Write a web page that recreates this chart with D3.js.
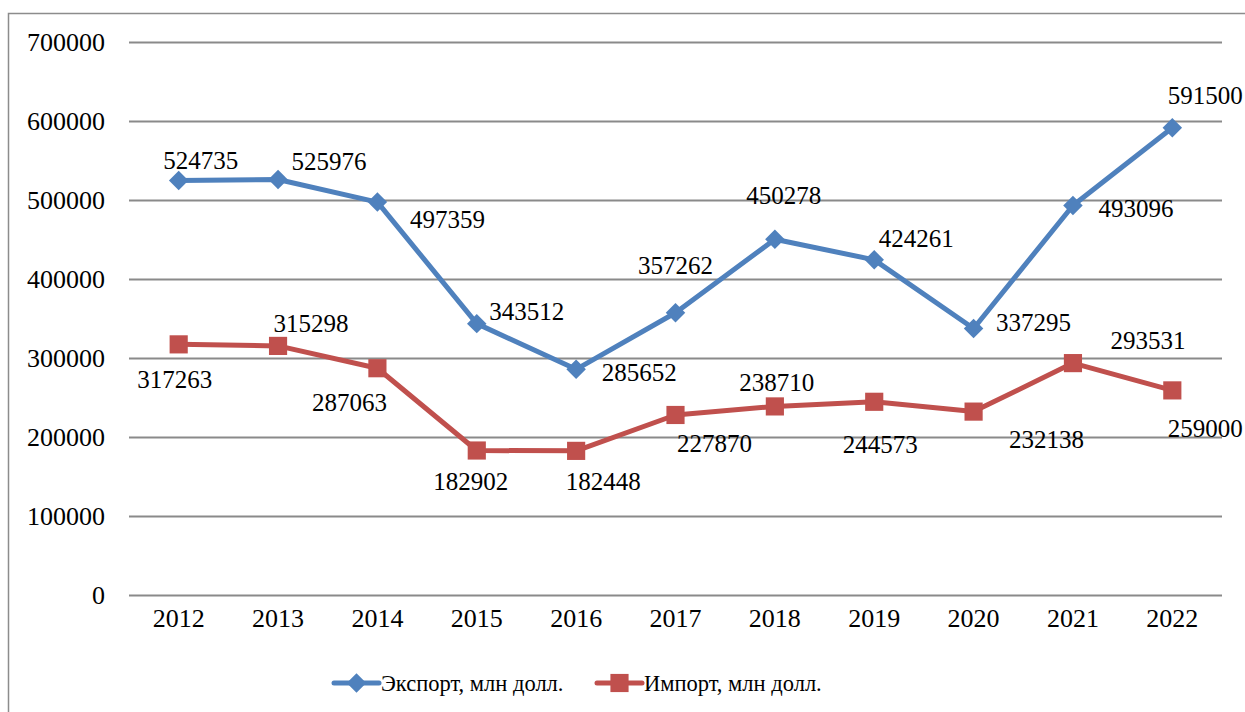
<!DOCTYPE html>
<html>
<head>
<meta charset="utf-8">
<script src="https://cdn.jsdelivr.net/npm/d3@7"></script>
<style>
	body { margin: 0; background: #fff; }
</style>
</head>
<body>
<div id="chart"></div>
<script>
const years = ["2012", "2013", "2014", "2015", "2016", "2017", "2018", "2019", "2020", "2021", "2022"];
const exportValues = [524735, 525976, 497359, 343512, 285652, 357262, 450278, 424261, 337295, 493096, 591500];
const importValues = [317263, 315298, 287063, 182902, 182448, 227870, 238710, 244573, 232138, 293531, 259000];
const yTicks = [0, 100000, 200000, 300000, 400000, 500000, 600000, 700000];
const seriesNames = ["Экспорт, млн долл.", "Импорт, млн долл."];

// label offsets from the point
const exportLabelOffsets = [[22, -20], [51, -18], [70, 17], [50, -12], [63, 3], [0, -48], [9, -44], [42, -22], [60, -6], [63, 3], [33, -32]];
const importLabelOffsets = [[-4, 35], [33, -23], [-28, 34], [-6, 31], [27, 30], [39, 28], [2, -24], [6, 42], [73, 28], [75, -23], [33, 38]];

const WIDTH = 1245;
const HEIGHT = 712;
const FONT_SIZE = 26;
const LABEL_FONT_SIZE = 25;
const LEGEND_FONT_SIZE = 22.5;
const FONT_FAMILY = "Liberation Serif";
const GRID_COLOR = "#8a8a8a";
const BLUE = "#4f81bd";
const RED = "#c0504d";

const margin = {left: 129, right: 23, top: 42, bottom: 117};

const svg = d3.select("#chart").append("svg")
	.attr("width", WIDTH)
	.attr("height", HEIGHT)
	.attr("font-family", FONT_FAMILY);

// chart border
svg.append("rect")
	.attr("x", 8.5)
	.attr("y", 13.5)
	.attr("width", WIDTH)
	.attr("height", HEIGHT)
	.attr("fill", "none")
	.attr("stroke", "#8c8c8c")
	.attr("stroke-width", 1.5);

const x = d3.scaleBand()
	.domain(years)
	.range([margin.left, WIDTH - margin.right]);

const y = d3.scaleLinear()
	.domain([0, 700000])
	.range([HEIGHT - margin.bottom, margin.top]);

// y axis with gridlines
svg.append("g")
	.attr("class", "y-axis")
	.attr("transform", `translate(${margin.left},0)`)
	.call(d3.axisLeft(y)
		.tickValues(yTicks)
		.tickFormat(d => `${d}`)
		.tickSize(-(WIDTH - margin.left - margin.right))
		.tickPadding(24))
	.attr("font-family", FONT_FAMILY)
	.attr("font-size", FONT_SIZE)
	.call(g => g.select(".domain").remove())
	.call(g => g.selectAll("line")
		.attr("stroke", GRID_COLOR)
		.attr("stroke-width", 2))
	.call(g => g.selectAll("text")
		.attr("fill", "#000"));

// x axis
svg.append("g")
	.attr("class", "x-axis")
	.attr("transform", `translate(0,${HEIGHT - margin.bottom})`)
	.call(d3.axisBottom(x).tickSize(0).tickPadding(14))
	.attr("font-family", FONT_FAMILY)
	.attr("font-size", FONT_SIZE)
	.call(g => g.select(".domain").remove())
	.call(g => g.selectAll("text")
		.attr("fill", "#000"));

const cx = d => x(d) + x.bandwidth() / 2;

const line = d3.line()
	.x(d => cx(d.year))
	.y(d => y(d.value));

const exportData = years.map((year, i) => ({year, value: exportValues[i], off: exportLabelOffsets[i]}));
const importData = years.map((year, i) => ({year, value: importValues[i], off: importLabelOffsets[i]}));

function drawSeries(data, color, symbolSize, rotate) {
	const g = svg.append("g");
	g.append("path")
		.datum(data)
		.attr("fill", "none")
		.attr("stroke", color)
		.attr("stroke-width", 5)
		.attr("stroke-linejoin", "round")
		.attr("d", line);
	g.selectAll("path.marker")
		.data(data)
		.join("path")
		.attr("class", "marker")
		.attr("fill", color)
		.attr("transform", d => `translate(${cx(d.year)},${y(d.value)}) rotate(${rotate})`)
		.attr("d", d3.symbol(d3.symbolSquare, symbolSize));
	g.selectAll("text")
		.data(data)
		.join("text")
		.attr("x", d => cx(d.year) + d.off[0])
		.attr("y", d => y(d.value) + d.off[1])
		.attr("dy", "0.35em")
		.attr("text-anchor", "middle")
		.attr("font-family", FONT_FAMILY)
		.attr("font-size", LABEL_FONT_SIZE)
		.text(d => d.value);
}

drawSeries(exportData, BLUE, 190, 45);
drawSeries(importData, RED, 330, 0);

// legend
const legendY = 683;
const legendItems = [
	{name: seriesNames[0], color: BLUE, rotate: 45, size: 190, x0: 334},
	{name: seriesNames[1], color: RED, rotate: 0, size: 330, x0: 597}
];
const legend = svg.append("g").attr("class", "legend");
legendItems.forEach(item => {
	const lg = legend.append("g");
	lg.append("line")
		.attr("x1", item.x0)
		.attr("x2", item.x0 + 45)
		.attr("y1", legendY)
		.attr("y2", legendY)
		.attr("stroke", item.color)
		.attr("stroke-width", 5)
		.attr("stroke-linecap", "round");
	lg.append("path")
		.attr("fill", item.color)
		.attr("transform", `translate(${item.x0 + 22.5},${legendY}) rotate(${item.rotate})`)
		.attr("d", d3.symbol(d3.symbolSquare, item.size));
	lg.append("text")
		.attr("x", item.x0 + 47)
		.attr("y", legendY)
		.attr("dy", "0.35em")
		.attr("font-family", FONT_FAMILY)
		.attr("font-size", LEGEND_FONT_SIZE)
		.text(item.name);
});
</script>
</body>
</html>
